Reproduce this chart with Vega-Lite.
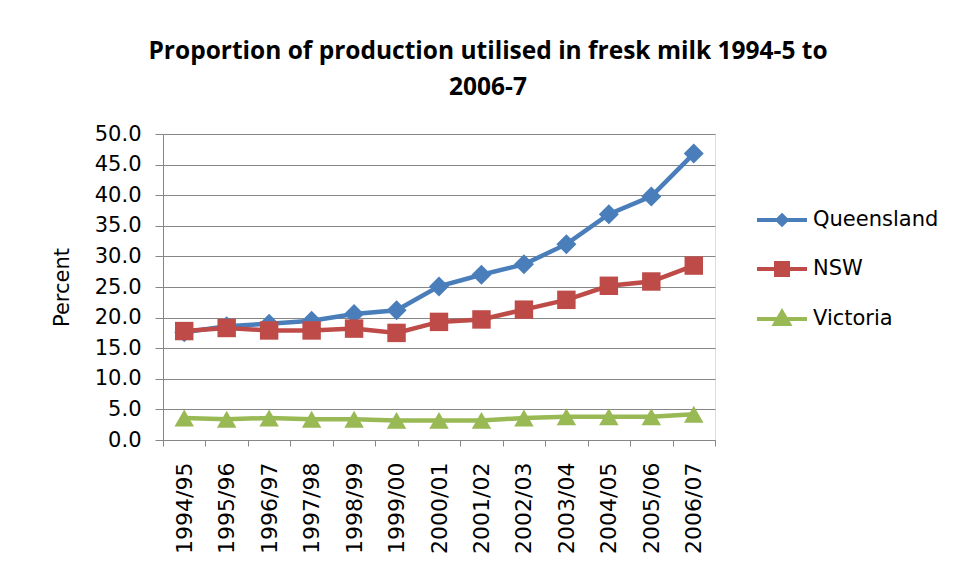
{
  "$schema": "https://vega.github.io/schema/vega-lite/v6.json",
  "width": 552,
  "height": 306,
  "autosize": {"type": "none"},
  "padding": {"left": 163, "top": 134, "right": 242, "bottom": 141},
  "background": "white",
  "title": {
    "text": ["Proportion of production utilised in fresk milk 1994-5 to", "2006-7"],
    "font": "Open Sans",
    "fontSize": 24.5,
    "fontWeight": "bold",
    "color": "#000000",
    "anchor": "middle",
    "dx": 49,
    "lineHeight": 36,
    "baseline": "bottom",
    "offset": -1
  },
  "data": {
    "values": [
      {"year": "1994/95", "state": "Queensland", "value": 17.6},
      {"year": "1995/96", "state": "Queensland", "value": 18.6},
      {"year": "1996/97", "state": "Queensland", "value": 19.0},
      {"year": "1997/98", "state": "Queensland", "value": 19.5},
      {"year": "1998/99", "state": "Queensland", "value": 20.6},
      {"year": "1999/00", "state": "Queensland", "value": 21.2},
      {"year": "2000/01", "state": "Queensland", "value": 25.1},
      {"year": "2001/02", "state": "Queensland", "value": 27.0},
      {"year": "2002/03", "state": "Queensland", "value": 28.7},
      {"year": "2003/04", "state": "Queensland", "value": 32.0},
      {"year": "2004/05", "state": "Queensland", "value": 36.9},
      {"year": "2005/06", "state": "Queensland", "value": 39.8},
      {"year": "2006/07", "state": "Queensland", "value": 46.8},
      {"year": "1994/95", "state": "NSW", "value": 17.8},
      {"year": "1995/96", "state": "NSW", "value": 18.3},
      {"year": "1996/97", "state": "NSW", "value": 17.9},
      {"year": "1997/98", "state": "NSW", "value": 17.9},
      {"year": "1998/99", "state": "NSW", "value": 18.2},
      {"year": "1999/00", "state": "NSW", "value": 17.5},
      {"year": "2000/01", "state": "NSW", "value": 19.3},
      {"year": "2001/02", "state": "NSW", "value": 19.7},
      {"year": "2002/03", "state": "NSW", "value": 21.3},
      {"year": "2003/04", "state": "NSW", "value": 22.9},
      {"year": "2004/05", "state": "NSW", "value": 25.2},
      {"year": "2005/06", "state": "NSW", "value": 25.9},
      {"year": "2006/07", "state": "NSW", "value": 28.5},
      {"year": "1994/95", "state": "Victoria", "value": 3.6},
      {"year": "1995/96", "state": "Victoria", "value": 3.4},
      {"year": "1996/97", "state": "Victoria", "value": 3.6},
      {"year": "1997/98", "state": "Victoria", "value": 3.4},
      {"year": "1998/99", "state": "Victoria", "value": 3.4},
      {"year": "1999/00", "state": "Victoria", "value": 3.2},
      {"year": "2000/01", "state": "Victoria", "value": 3.2},
      {"year": "2001/02", "state": "Victoria", "value": 3.2},
      {"year": "2002/03", "state": "Victoria", "value": 3.6},
      {"year": "2003/04", "state": "Victoria", "value": 3.8},
      {"year": "2004/05", "state": "Victoria", "value": 3.8},
      {"year": "2005/06", "state": "Victoria", "value": 3.8},
      {"year": "2006/07", "state": "Victoria", "value": 4.2}
    ]
  },
  "encoding": {
    "x": {
      "field": "year",
      "type": "ordinal",
      "bandPosition": 0.5,
      "scale": {"type": "band", "paddingInner": 0, "paddingOuter": 0},
      "axis": {
        "title": null,
        "labelAngle": -90,
        "labelFont": "DejaVu Sans",
        "labelFontSize": 22,
        "labelColor": "#000000",
        "labelPadding": 16,
        "tickBand": "extent",
        "tickSize": 6,
        "tickColor": "#868686",
        "domainColor": "#868686",
        "grid": false
      }
    },
    "y": {
      "field": "value",
      "type": "quantitative",
      "scale": {"domain": [0, 50], "nice": false},
      "axis": {
        "title": "Percent",
        "titleFont": "DejaVu Sans",
        "titleFontSize": 21,
        "titleFontWeight": "normal",
        "titleColor": "#000000",
        "titlePadding": 22,
        "values": [0, 5, 10, 15, 20, 25, 30, 35, 40, 45, 50],
        "format": ".1f",
        "labelFont": "DejaVu Sans",
        "labelFontSize": 21,
        "labelColor": "#000000",
        "labelPadding": 14,
        "tickSize": 8,
        "tickColor": "#868686",
        "domainColor": "#868686",
        "gridColor": "#868686",
        "gridWidth": 1
      }
    },
    "color": {
      "field": "state",
      "type": "nominal",
      "scale": {"domain": ["Queensland", "NSW", "Victoria"], "range": ["#4A7EBB", "#BE4B48", "#98B954"]},
      "legend": {
        "title": null,
        "orient": "none",
        "legendX": 592,
        "legendY": 59,
        "symbolSize": 2500,
        "rowPadding": 9,
        "labelOffset": 4,
        "labelFont": "DejaVu Sans",
        "labelFontSize": 21,
        "labelColor": "#000000",
        "symbolStrokeWidth": 4,
        "symbolOpacity": 1,
        "encode": {
          "symbols": {
            "update": {
              "shape": {"signal": "datum.value === 'Queensland' ? 'M-1,0L1,0M0,-0.18L0.18,0L0,0.18L-0.18,0Z' : datum.value === 'NSW' ? 'M-1,0L1,0M-0.24,-0.24L0.24,-0.24L0.24,0.24L-0.24,0.24Z' : 'M-1,0L1,0M0,-0.28L0.28,0.2L-0.28,0.2Z'"},
              "fill": {"signal": "scale('color', datum.value)"},
              "stroke": {"signal": "scale('color', datum.value)"},
              "strokeWidth": {"value": 4},
              "opacity": {"value": 1}
            }
          }
        }
      }
    }
  },
  "layer": [
    {
      "mark": {"type": "line", "strokeWidth": 4.5}
    },
    {
      "transform": [{"filter": "datum.state === 'Queensland'"}],
      "mark": {"type": "point", "shape": "diamond", "filled": true, "opacity": 1, "size": 400}
    },
    {
      "transform": [{"filter": "datum.state === 'NSW'"}],
      "mark": {"type": "point", "shape": "square", "filled": true, "opacity": 1, "size": 340}
    },
    {
      "transform": [{"filter": "datum.state === 'Victoria'"}],
      "mark": {"type": "point", "shape": "triangle-up", "filled": true, "opacity": 1, "size": 380}
    }
  ]
}
